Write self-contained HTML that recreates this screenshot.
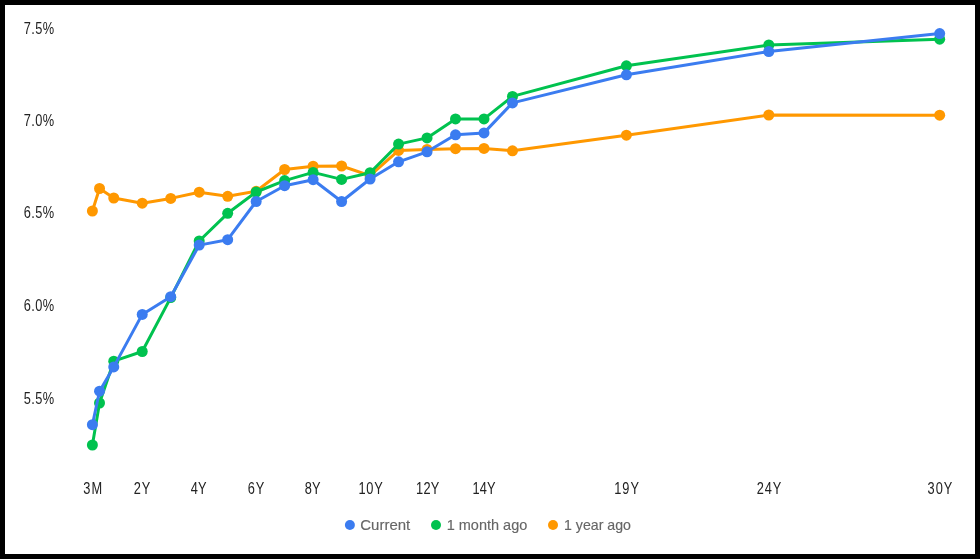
<!DOCTYPE html>
<html><head><meta charset="utf-8"><style>
html,body{margin:0;padding:0;background:#fff;}
body{width:980px;height:559px;overflow:hidden;}
svg{display:block;will-change:transform;}
text{font-family:"Liberation Sans",sans-serif;font-size:15px;}
text.ax{font-size:16px;}
</style></head><body>
<svg width="980" height="559" viewBox="0 0 980 559">
<rect x="0" y="0" width="980" height="559" fill="#000"/>
<rect x="5" y="5" width="970" height="549" fill="#fff"/>
<g transform="translate(23.70,34) scale(0.8,1)"><text class="ax" x="0" y="0" textLength="38.12" lengthAdjust="spacing" fill="#222">7.5%</text></g><g transform="translate(23.70,126) scale(0.8,1)"><text class="ax" x="0" y="0" textLength="38.12" lengthAdjust="spacing" fill="#222">7.0%</text></g><g transform="translate(23.70,218) scale(0.8,1)"><text class="ax" x="0" y="0" textLength="38.12" lengthAdjust="spacing" fill="#222">6.5%</text></g><g transform="translate(23.70,311) scale(0.8,1)"><text class="ax" x="0" y="0" textLength="38.12" lengthAdjust="spacing" fill="#222">6.0%</text></g><g transform="translate(23.70,404) scale(0.8,1)"><text class="ax" x="0" y="0" textLength="38.12" lengthAdjust="spacing" fill="#222">5.5%</text></g>
<g transform="translate(83.15,494) scale(0.8,1)"><text class="ax" x="0" y="0" textLength="23.88" lengthAdjust="spacing" fill="#222">3M</text></g><g transform="translate(133.85,494) scale(0.8,1)"><text class="ax" x="0" y="0" textLength="20.62" lengthAdjust="spacing" fill="#222">2Y</text></g><g transform="translate(190.65,494) scale(0.8,1)"><text class="ax" x="0" y="0" textLength="19.88" lengthAdjust="spacing" fill="#222">4Y</text></g><g transform="translate(247.65,494) scale(0.8,1)"><text class="ax" x="0" y="0" textLength="20.87" lengthAdjust="spacing" fill="#222">6Y</text></g><g transform="translate(304.65,494) scale(0.8,1)"><text class="ax" x="0" y="0" textLength="19.88" lengthAdjust="spacing" fill="#222">8Y</text></g><g transform="translate(358.40,494) scale(0.8,1)"><text class="ax" x="0" y="0" textLength="30.50" lengthAdjust="spacing" fill="#222">10Y</text></g><g transform="translate(416.00,494) scale(0.8,1)"><text class="ax" x="0" y="0" textLength="29.25" lengthAdjust="spacing" fill="#222">12Y</text></g><g transform="translate(472.45,494) scale(0.8,1)"><text class="ax" x="0" y="0" textLength="28.88" lengthAdjust="spacing" fill="#222">14Y</text></g><g transform="translate(614.25,494) scale(0.8,1)"><text class="ax" x="0" y="0" textLength="30.87" lengthAdjust="spacing" fill="#222">19Y</text></g><g transform="translate(756.65,494) scale(0.8,1)"><text class="ax" x="0" y="0" textLength="30.87" lengthAdjust="spacing" fill="#222">24Y</text></g><g transform="translate(927.60,494) scale(0.8,1)"><text class="ax" x="0" y="0" textLength="31.00" lengthAdjust="spacing" fill="#222">30Y</text></g>

<polyline points="92.40,211.00 99.52,188.50 113.76,198.00 142.24,203.20 170.72,198.40 199.20,192.20 227.68,196.30 256.16,191.30 284.64,169.50 313.12,166.20 341.60,166.00 370.08,175.70 398.56,150.40 427.04,149.40 455.52,148.70 484.00,148.40 512.48,150.80 626.40,135.20 768.80,115.00 939.68,115.20" fill="none" stroke="#ff9800" stroke-width="3" stroke-linejoin="round" stroke-linecap="butt"/>
<circle cx="92.40" cy="211.00" r="5.5" fill="#ff9800"/><circle cx="99.52" cy="188.50" r="5.5" fill="#ff9800"/><circle cx="113.76" cy="198.00" r="5.5" fill="#ff9800"/><circle cx="142.24" cy="203.20" r="5.5" fill="#ff9800"/><circle cx="170.72" cy="198.40" r="5.5" fill="#ff9800"/><circle cx="199.20" cy="192.20" r="5.5" fill="#ff9800"/><circle cx="227.68" cy="196.30" r="5.5" fill="#ff9800"/><circle cx="256.16" cy="191.30" r="5.5" fill="#ff9800"/><circle cx="284.64" cy="169.50" r="5.5" fill="#ff9800"/><circle cx="313.12" cy="166.20" r="5.5" fill="#ff9800"/><circle cx="341.60" cy="166.00" r="5.5" fill="#ff9800"/><circle cx="370.08" cy="175.70" r="5.5" fill="#ff9800"/><circle cx="398.56" cy="150.40" r="5.5" fill="#ff9800"/><circle cx="427.04" cy="149.40" r="5.5" fill="#ff9800"/><circle cx="455.52" cy="148.70" r="5.5" fill="#ff9800"/><circle cx="484.00" cy="148.40" r="5.5" fill="#ff9800"/><circle cx="512.48" cy="150.80" r="5.5" fill="#ff9800"/><circle cx="626.40" cy="135.20" r="5.5" fill="#ff9800"/><circle cx="768.80" cy="115.00" r="5.5" fill="#ff9800"/><circle cx="939.68" cy="115.20" r="5.5" fill="#ff9800"/>

<polyline points="92.40,445.00 99.52,403.00 113.76,361.20 142.24,351.50 170.72,297.60 199.20,241.00 227.68,213.30 256.16,192.00 284.64,180.60 313.12,172.40 341.60,179.40 370.08,172.70 398.56,144.10 427.04,137.90 455.52,118.90 484.00,118.90 512.48,96.40 626.40,65.80 768.80,45.00 939.68,39.20" fill="none" stroke="#00c24f" stroke-width="3" stroke-linejoin="round" stroke-linecap="butt"/>
<circle cx="92.40" cy="445.00" r="5.5" fill="#00c24f"/><circle cx="99.52" cy="403.00" r="5.5" fill="#00c24f"/><circle cx="113.76" cy="361.20" r="5.5" fill="#00c24f"/><circle cx="142.24" cy="351.50" r="5.5" fill="#00c24f"/><circle cx="170.72" cy="297.60" r="5.5" fill="#00c24f"/><circle cx="199.20" cy="241.00" r="5.5" fill="#00c24f"/><circle cx="227.68" cy="213.30" r="5.5" fill="#00c24f"/><circle cx="256.16" cy="192.00" r="5.5" fill="#00c24f"/><circle cx="284.64" cy="180.60" r="5.5" fill="#00c24f"/><circle cx="313.12" cy="172.40" r="5.5" fill="#00c24f"/><circle cx="341.60" cy="179.40" r="5.5" fill="#00c24f"/><circle cx="370.08" cy="172.70" r="5.5" fill="#00c24f"/><circle cx="398.56" cy="144.10" r="5.5" fill="#00c24f"/><circle cx="427.04" cy="137.90" r="5.5" fill="#00c24f"/><circle cx="455.52" cy="118.90" r="5.5" fill="#00c24f"/><circle cx="484.00" cy="118.90" r="5.5" fill="#00c24f"/><circle cx="512.48" cy="96.40" r="5.5" fill="#00c24f"/><circle cx="626.40" cy="65.80" r="5.5" fill="#00c24f"/><circle cx="768.80" cy="45.00" r="5.5" fill="#00c24f"/><circle cx="939.68" cy="39.20" r="5.5" fill="#00c24f"/>

<polyline points="92.40,424.70 99.52,391.20 113.76,366.90 142.24,314.40 170.72,296.70 199.20,245.10 227.68,239.70 256.16,201.50 284.64,185.70 313.12,179.70 341.60,201.50 370.08,179.00 398.56,161.80 427.04,151.80 455.52,134.80 484.00,132.90 512.48,102.90 626.40,74.80 768.80,51.50 939.68,33.60" fill="none" stroke="#3b7cf0" stroke-width="3" stroke-linejoin="round" stroke-linecap="butt"/>
<circle cx="92.40" cy="424.70" r="5.5" fill="#3b7cf0"/><circle cx="99.52" cy="391.20" r="5.5" fill="#3b7cf0"/><circle cx="113.76" cy="366.90" r="5.5" fill="#3b7cf0"/><circle cx="142.24" cy="314.40" r="5.5" fill="#3b7cf0"/><circle cx="170.72" cy="296.70" r="5.5" fill="#3b7cf0"/><circle cx="199.20" cy="245.10" r="5.5" fill="#3b7cf0"/><circle cx="227.68" cy="239.70" r="5.5" fill="#3b7cf0"/><circle cx="256.16" cy="201.50" r="5.5" fill="#3b7cf0"/><circle cx="284.64" cy="185.70" r="5.5" fill="#3b7cf0"/><circle cx="313.12" cy="179.70" r="5.5" fill="#3b7cf0"/><circle cx="341.60" cy="201.50" r="5.5" fill="#3b7cf0"/><circle cx="370.08" cy="179.00" r="5.5" fill="#3b7cf0"/><circle cx="398.56" cy="161.80" r="5.5" fill="#3b7cf0"/><circle cx="427.04" cy="151.80" r="5.5" fill="#3b7cf0"/><circle cx="455.52" cy="134.80" r="5.5" fill="#3b7cf0"/><circle cx="484.00" cy="132.90" r="5.5" fill="#3b7cf0"/><circle cx="512.48" cy="102.90" r="5.5" fill="#3b7cf0"/><circle cx="626.40" cy="74.80" r="5.5" fill="#3b7cf0"/><circle cx="768.80" cy="51.50" r="5.5" fill="#3b7cf0"/><circle cx="939.68" cy="33.60" r="5.5" fill="#3b7cf0"/>

<circle cx="349.9" cy="525" r="5" fill="#3b7cf0"/><text x="360.3" y="529.97" textLength="50" lengthAdjust="spacingAndGlyphs" fill="#666" stroke="#666" stroke-width="0.15">Current</text><circle cx="436" cy="525" r="5" fill="#00c24f"/><text x="446.7" y="529.97" textLength="80.6" lengthAdjust="spacingAndGlyphs" fill="#666" stroke="#666" stroke-width="0.15">1 month ago</text><circle cx="553" cy="525" r="5" fill="#ff9800"/><text x="564" y="529.97" textLength="67" lengthAdjust="spacingAndGlyphs" fill="#666" stroke="#666" stroke-width="0.15">1 year ago</text>
</svg>
</body></html>
